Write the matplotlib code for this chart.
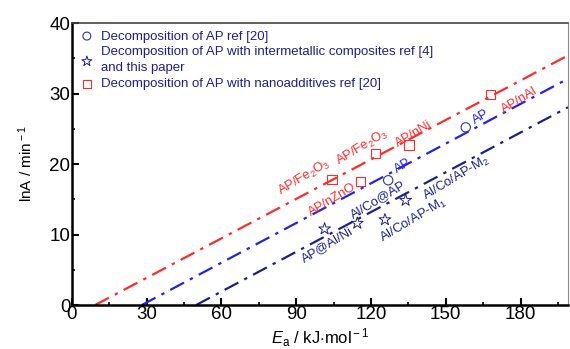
import matplotlib
matplotlib.use("Agg")
import matplotlib.pyplot as plt

plt.rcParams['font.family'] = ['Liberation Sans', 'DejaVu Sans']
plt.rcParams['mathtext.fontset'] = 'custom'
plt.rcParams['mathtext.rm'] = 'Liberation Sans'
plt.rcParams['mathtext.it'] = 'Liberation Sans:italic'
plt.rcParams['mathtext.bf'] = 'Liberation Sans:bold'

# fitted lines (kJ/mol, lnA)
red_line_x = [9.4, 199]
red_line_y = [0, 35.4]
blue_line_x = [28.1, 199]
blue_line_y = [0, 32.1]
navy_line_x = [49.9, 199]
navy_line_y = [0, 28.05]

# AP ref [20]
ap_x = [158, 126.9]
ap_y = [25.2, 17.7]
# intermetallic composites
im_x = [101.4, 114.5, 125.6, 133.9]
im_y = [10.8, 11.6, 12.1, 14.85]
# nanoadditives
na_x = [168, 135.2, 121.8, 104.4, 115.8]
na_y = [29.9, 22.7, 21.5, 17.8, 17.5]

RED = '#ff2a2a'
BLUE = '#2222ee'
NAVY = '#1f1f8a'

fig = plt.figure(figsize=(5.70, 3.49), dpi=100)
ax = fig.add_axes([0.1258, 0.126, 0.8707, 0.808])

ax.plot(red_line_x, red_line_y, color=RED, lw=1.6, ls=(0, (7, 3, 1.5, 3)))
ax.plot(blue_line_x, blue_line_y, color=BLUE, lw=1.6, ls=(0, (7, 3, 1.5, 3)))
ax.plot(navy_line_x, navy_line_y, color=NAVY, lw=1.6, ls=(0, (7, 3, 1.5, 3)))

ax.scatter(ap_x, ap_y, marker='o', s=45, facecolors='none', edgecolors='#3333aa', lw=0.8,
           label='Decomposition of AP ref [20]', zorder=3)
ax.scatter(im_x, im_y, marker='*', s=80, facecolors='none', edgecolors=NAVY, lw=0.7,
           label='Decomposition of AP with intermetallic composites ref [4]\nand this paper', zorder=3)
ax.scatter(na_x, na_y, marker='s', s=45, facecolors='none', edgecolors=RED, lw=0.8,
           label='Decomposition of AP with nanoadditives ref [20]', zorder=3)

rot = 31
labels = [
    ('AP/Fe$_2$O$_3$', 93.4, 18.1, RED),
    ('AP/Fe$_2$O$_3$', 116.3, 22.4, RED),
    ('AP/nNi', 137, 24.3, RED),
    ('AP/nAl', 179.7, 29.1, RED),
    ('AP/nZnO', 104.5, 14.9, RED),
    ('AP', 164, 26.7, BLUE),
    ('AP', 132.6, 19.7, BLUE),
    ('Al/Co@AP', 123, 14.9, NAVY),
    ('AP@Al/Ni', 102.6, 8.6, NAVY),
    ('Al/Co/AP-M$_1$', 137, 12.0, NAVY),
    ('Al/Co/AP-M$_2$', 154, 18.0, NAVY),
]
for t, x, y, c in labels:
    ax.text(x, y, t, color=c, fontsize=9.4, rotation=rot, ha='center', va='center',
            rotation_mode='anchor')

ax.set_xlim(0, 199)
ax.set_ylim(0, 40)
ax.set_xticks([0, 30, 60, 90, 120, 150, 180])
ax.set_xticks([15, 45, 75, 105, 135, 165, 195], minor=True)
ax.set_yticks([0, 10, 20, 30, 40])
ax.set_yticks([5, 15, 25, 35], minor=True)
ax.tick_params(which='major', direction='in', length=5, width=1.5, labelsize=13.5, pad=1)
ax.tick_params(which='minor', direction='in', length=2.5, width=1.2)
for s in ['left', 'bottom']:
    ax.spines[s].set_linewidth(1.8)
ax.spines['top'].set_linewidth(1.2)
ax.spines['top'].set_color('#444444')
ax.spines['right'].set_linewidth(0.8)
ax.spines['right'].set_color('#888888')

ax.set_xlabel(r'$E_{\rm a}$ / kJ$\cdot$mol$^{\rm -1}$', fontsize=12, labelpad=2)
ax.set_ylabel(r'lnA / min$^{\rm -1}$', fontsize=11, labelpad=10)

leg = ax.legend(loc='upper left', frameon=False, fontsize=9.5, handletextpad=0.5,
                borderaxespad=0.15, labelspacing=0.3, handlelength=1.2,
                bbox_to_anchor=(0.0, 1.0), markerscale=0.85)
for txt in leg.get_texts():
    txt.set_color(NAVY)
    txt.set_linespacing(1.4)

fig.savefig('out.png', dpi=100)
